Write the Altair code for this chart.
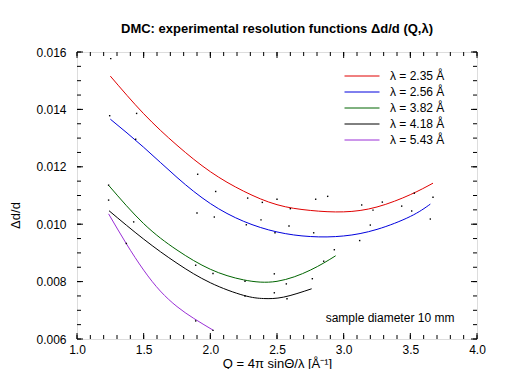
import altair as alt
import pandas as pd

FONT = "Liberation Sans"

# ---- curve data (Q, delta d / d) ----
labels = ["λ = 2.35 Å", "λ = 2.56 Å", "λ = 3.82 Å", "λ = 4.18 Å", "λ = 5.43 Å"]
colors = ["#e00000", "#0000dd", "#006400", "#000000", "#9a2fd6"]

q_235 = [1.25, 1.5, 1.75, 2.0, 2.25, 2.5, 2.75, 3.0, 3.25, 3.5, 3.67]
y_235 = [0.01516, 0.01385, 0.01275, 0.01183, 0.01115, 0.01068, 0.01048, 0.01043, 0.01060, 0.01103, 0.01143]

q_256 = [1.25, 1.5, 1.75, 2.0, 2.25, 2.5, 2.75, 3.0, 3.25, 3.5, 3.65]
y_256 = [0.01366, 0.01268, 0.01163, 0.01072, 0.01010, 0.00973, 0.00957, 0.00959, 0.00982, 0.01027, 0.01070]

q_382 = [1.24, 1.5, 1.75, 2.0, 2.25, 2.5, 2.75, 2.94]
y_382 = [0.01134, 0.01002, 0.00910, 0.00843, 0.00806, 0.00801, 0.00840, 0.00890]

q_418 = [1.24, 1.5, 1.75, 2.0, 2.25, 2.4, 2.55, 2.76]
y_418 = [0.01047, 0.00948, 0.00864, 0.00796, 0.00752, 0.00741, 0.00746, 0.00775]

q_543 = [1.237, 1.37, 1.5, 1.625, 1.75, 1.875, 2.02]
y_543 = [0.01036, 0.00932, 0.00840, 0.00767, 0.00713, 0.00672, 0.00631]

# ---- measured points ----
pts_q = [1.253, 1.447, 1.245, 1.44, 1.905, 1.237, 1.237, 1.425, 1.37, 1.89, 2.02, 1.89, 2.02,
         1.9, 2.03, 2.04, 2.28, 2.5, 2.39, 2.79, 2.88, 2.6, 2.38, 2.27, 2.59, 2.485, 2.775,
         2.93, 2.85, 2.48, 2.765, 2.26, 2.57, 2.48, 2.26, 2.575, 3.135, 3.29, 3.22, 3.435,
         3.53, 3.67, 3.51, 3.2, 3.65, 3.12]
pts_y = [0.01577, 0.01386, 0.01378, 0.01296, 0.01174, 0.01136, 0.01084, 0.01008, 0.00933, 0.00857,
         0.00828, 0.00663, 0.00630, 0.01039, 0.01025, 0.01114, 0.01091, 0.01087, 0.01076, 0.01087,
         0.01097, 0.01054, 0.01015, 0.00998, 0.00994, 0.00970, 0.00970, 0.00911, 0.00871, 0.00827,
         0.00810, 0.00801, 0.00792, 0.00761, 0.00750, 0.00740, 0.01067, 0.01077, 0.01049, 0.01063,
         0.01108, 0.01094, 0.01046, 0.00997, 0.01018, 0.00943]

# ---- axes / ticks ----
x_major = [1.0, 1.5, 2.0, 2.5, 3.0, 3.5, 4.0]
x_minor = [round(1.0 + 0.1 * i, 1) for i in range(31)]
y_major = [0.006, 0.008, 0.010, 0.012, 0.014, 0.016]
y_minor = [round(0.006 + 0.0005 * i, 4) for i in range(21)]

note_text = ["sample diameter 10 mm"]
note_q = [2.865]
note_y = [0.00672]

W, H = 400, 287
MAJ, MIN = 6, 4

series = [(labels[0], q_235, y_235), (labels[1], q_256, y_256), (labels[2], q_382, y_382),
          (labels[3], q_418, y_418), (labels[4], q_543, y_543)]
curves = pd.DataFrame(
    [{"lam": lab, "q": q, "y": y, "order": i} for lab, qs, ys in series for i, (q, y) in enumerate(zip(qs, ys))]
)
points = pd.DataFrame({"q": pts_q, "y": pts_y})

xscale = alt.Scale(domain=[1.0, 4.0], nice=False, zero=False)
yscale = alt.Scale(domain=[0.006, 0.016], nice=False, zero=False)

xaxis = alt.Axis(title="Q = 4π sinΘ/λ [Å⁻¹]", values=x_major, format=".1f", ticks=False, domain=False,
                 grid=False, labelFont=FONT, labelFontSize=12, labelColor="black", labelPadding=5,
                 titleFont=FONT, titleFontSize=13, titleFontWeight="normal", titleColor="black",
                 titlePadding=2, labelFlush=False)
yaxis = alt.Axis(title="Δd/d", values=y_major, format=".3f", ticks=False, domain=False, grid=False,
                 labelFont=FONT, labelFontSize=12, labelColor="black", labelPadding=11,
                 titleFont=FONT, titleFontSize=13, titleFontWeight="normal", titleColor="black",
                 titleX=-62, titleY=163, titleAngle=270, titleAlign="center", titleBaseline="middle",
                 labelFlush=False)

X = lambda f: alt.X(f, type="quantitative", scale=xscale, axis=xaxis)
Y = lambda f: alt.Y(f, type="quantitative", scale=yscale, axis=yaxis)

lines = alt.Chart(curves).mark_line(strokeWidth=1, interpolate="natural").encode(
    x=X("q"), y=Y("y"),
    color=alt.Color("lam:N", scale=alt.Scale(domain=labels, range=colors),
                    legend=alt.Legend(title=None, orient="none", legendX=279, legendY=18,
                                      symbolType="M-5,0L5,0", symbolSize=49, symbolStrokeWidth=1,
                                      labelOffset=22, labelFont=FONT, labelFontSize=12,
                                      labelColor="black", rowPadding=4, padding=0)),
    order="order:Q",
)

dots = alt.Chart(points).mark_square(size=2, color="black", opacity=1).encode(x=X("q"), y=Y("y"))

note = alt.Chart(pd.DataFrame({"t": note_text, "q": note_q, "y": note_y})).mark_text(
    align="left", baseline="middle", font=FONT, fontSize=12, color="black"
).encode(x=X("q"), y=Y("y"), text="t:N")

xmaj = pd.DataFrame({"v": x_major})
xmin = pd.DataFrame({"v": x_minor})
ymaj = pd.DataFrame({"v": y_major})
ymin = pd.DataFrame({"v": y_minor})

tick_layers = []
for df, ln in [(xmin, MIN), (xmaj, MAJ)]:
    tick_layers.append(alt.Chart(df).mark_rule(color="black", strokeWidth=1).encode(
        x=X("v"), y=alt.value(H), y2=alt.value(H - ln)))
    tick_layers.append(alt.Chart(df).mark_rule(color="black", strokeWidth=1).encode(
        x=X("v"), y=alt.value(0), y2=alt.value(ln)))
for df, ln in [(ymin, MIN), (ymaj, MAJ)]:
    tick_layers.append(alt.Chart(df).mark_rule(color="black", strokeWidth=1).encode(
        y=Y("v"), x=alt.value(0), x2=alt.value(ln)))
    tick_layers.append(alt.Chart(df).mark_rule(color="black", strokeWidth=1).encode(
        y=Y("v"), x=alt.value(W), x2=alt.value(W - ln)))

chart = alt.layer(lines, dots, note, *tick_layers).properties(
    width=W, height=H,
    autosize=alt.AutoSizeParams(type="none"),
    padding={"left": 69, "top": 44, "right": 20, "bottom": 30},
    title=alt.Title("DMC: experimental resolution functions Δd/d (Q,λ)", font=FONT, fontSize=13,
                    fontWeight="bold", anchor="middle", color="black", offset=10),
).configure_view(stroke="black", strokeWidth=1).configure(background="white")

chart.save("out.html", embed_options={"renderer": "svg", "actions": False})
